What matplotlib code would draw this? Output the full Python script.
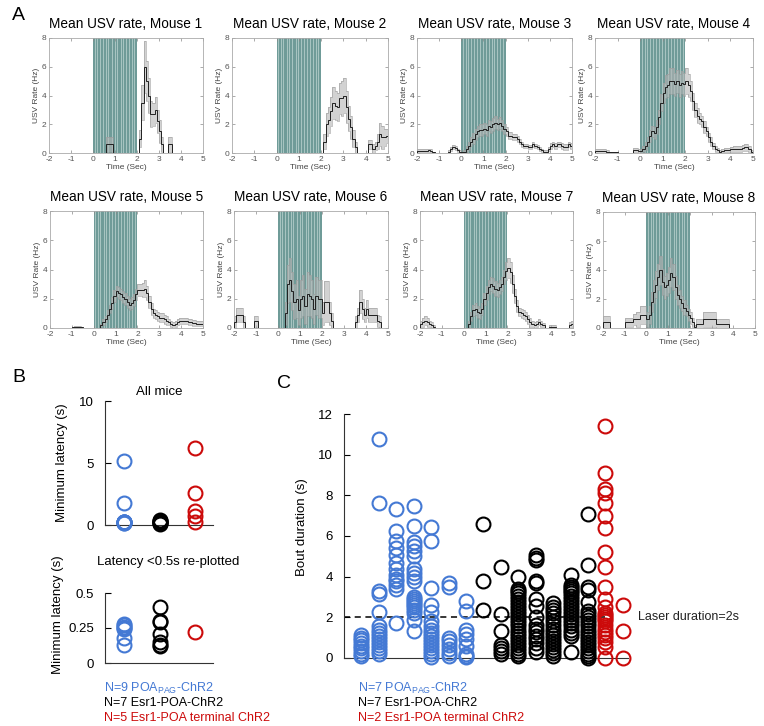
import numpy as np
import matplotlib
matplotlib.use('Agg')
import matplotlib.pyplot as plt

plt.rcParams['font.family'] = ['Liberation Sans', 'DejaVu Sans']
plt.rcParams['mathtext.default'] = 'regular'
plt.rcParams['axes.unicode_minus'] = False

W, H = 764, 726
BLUE = '#4479d4'
RED = '#cc0a0a'

# ---------- Panel A: mean USV rate per mouse, 0.1 s bins from -2 to 5 s ----------
t_edges = np.round(np.arange(-2.0, 5.0001, 0.1), 2)

mouse1_mean = [0,0,0,0,0,0,0,0,0,0,  0,0,0,0,0,0,0,0,0,0,
               0,0,0,0,0,0,0.6,0.6,0.6,0,  0,0,0,0,0,0,0,0,0,0,
               0,1.0,3.5,6.0,5.0,4.0,2.7,2.7,3.0,2.2,  1.5,0.6,0,0,0.6,0.6,0,0,0,0,
               0,0,0,0,0,0,0,0,0,0]
mouse1_sem = [0,0,0,0,0,0,0,0,0,0,  0,0,0,0,0,0,0,0,0,0,
              0,0,0,0,0,0,0.5,0.5,0.5,0,  0,0,0,0,0,0,0,0,0,0,
              0,0.6,1.2,1.8,1.4,1.2,0.9,0.8,0.9,0.8,  0.8,0.5,0,0,0.5,0.5,0,0,0,0,
              0,0,0,0,0,0,0,0,0,0]

mouse2_mean = [0,0,0,0,0,0,0,0,0,0,  0,0,0,0,0,0,0,0,0,0,
               0,0,0,0,0,0,0,0,0,0,  0,0,0,0,0,0,0,0,0,0,
               0,0.8,2.0,2.3,2.9,3.5,3.3,3.2,3.8,3.8,  4.0,3.2,2.4,1.8,1.0,0.4,0,0,0,0,
               0,0.6,0.6,0.3,0.5,0.8,1.3,1.1,1.1,1.2]
mouse2_sem = [0,0,0,0,0,0,0,0,0,0,  0,0,0,0,0,0,0,0,0,0,
              0,0,0,0,0,0,0,0,0,0,  0,0,0,0,0,0,0,0,0,0,
              0,0.5,0.8,0.9,1.0,1.1,1.0,1.0,1.1,1.2,  1.2,1.1,0.9,0.8,0.6,0.4,0,0,0,0,
              0,0.3,0.3,0.3,0.3,0.5,0.8,0.8,0.6,0.5]

mouse3_mean = [0.15,0.15,0.15,0.15,0.15,0.2,0.15,0.05,0,0,  0,0,0,0,0.1,0.3,0.4,0.35,0.2,0.1,
               0.05,0.1,0.3,0.5,0.8,1.0,1.3,1.5,1.6,1.6,  1.7,1.6,1.9,1.8,2.0,2.1,2.0,2.1,1.9,1.7,
               1.5,1.2,1.2,1.1,1.1,1.0,0.8,0.6,0.5,0.5,  0.4,0.4,0.6,0.5,0.4,0.3,0.2,0.1,0.1,0.3,
               0.5,0.6,0.5,0.6,0.6,0.5,0.4,0.4,0.6,0.5]
mouse3_sem = [0.1,0.1,0.1,0.1,0.1,0.1,0.1,0.05,0,0,  0,0,0,0,0.1,0.15,0.15,0.15,0.1,0.1,
              0.05,0.1,0.2,0.3,0.3,0.4,0.4,0.4,0.4,0.4,  0.4,0.4,0.4,0.4,0.45,0.45,0.4,0.4,0.4,0.35,
              0.3,0.25,0.25,0.2,0.2,0.2,0.2,0.2,0.15,0.15,  0.15,0.15,0.15,0.15,0.15,0.15,0.1,0.1,0.1,0.15,
              0.2,0.2,0.2,0.2,0.2,0.2,0.2,0.2,0.2,0.2]

mouse4_mean = [0.15,0.15,0.15,0.15,0.15,0.1,0.05,0.05,0.05,0.05,  0,0,0,0,0,0,0,0.2,0.2,0.15,
               0.15,0.3,0.5,0.8,1.2,1.5,1.4,1.8,2.5,3.5,  4.2,4.6,4.7,5.0,5.0,4.8,5.0,4.7,4.9,4.8,
               5.0,4.7,4.3,3.6,3.0,2.6,2.4,2.2,1.8,1.5,  1.1,0.8,0.5,0.3,0.2,0.1,0.15,0.2,0.2,0.2,
               0.25,0.3,0.3,0.3,0.3,0.35,0.4,0.4,0.3,0.1]
mouse4_sem = [0.15,0.15,0.15,0.15,0.15,0.1,0.05,0.05,0.05,0.05,  0,0,0,0,0,0,0,0.15,0.15,0.15,
              0.15,0.2,0.3,0.3,0.4,0.4,0.4,0.5,0.5,0.6,  0.7,0.8,0.8,0.9,0.9,0.8,0.8,0.8,0.8,0.8,
              0.9,0.8,0.7,0.6,0.5,0.5,0.4,0.4,0.4,0.3,  0.3,0.3,0.2,0.2,0.15,0.1,0.1,0.15,0.15,0.15,
              0.2,0.2,0.2,0.2,0.2,0.2,0.25,0.25,0.2,0.1]

mouse5_mean = [0,0,0,0,0,0,0,0,0,0,  0.05,0.1,0.1,0.1,0.05,0,0,0,0,0,
               0,0,0,0.2,0.4,0.6,0.9,1.3,1.7,2.2,  2.5,2.4,2.3,2.1,2.0,1.8,1.6,1.7,1.9,2.3,
               2.6,2.6,2.6,2.7,2.4,1.8,1.3,1.0,0.9,0.8,  0.7,0.7,0.6,0.5,0.4,0.3,0.2,0.3,0.4,0.5,
               0.5,0.45,0.45,0.4,0.4,0.35,0.35,0.3,0.3,0.3]
mouse5_sem = [0,0,0,0,0,0,0,0,0,0,  0.05,0.05,0.05,0.05,0.05,0,0,0,0,0,
              0,0,0,0.1,0.2,0.2,0.3,0.3,0.4,0.4,  0.4,0.4,0.4,0.4,0.4,0.4,0.4,0.4,0.4,0.4,
              0.4,0.4,0.5,0.6,0.5,0.4,0.4,0.3,0.3,0.3,  0.3,0.3,0.3,0.3,0.2,0.2,0.2,0.2,0.2,0.2,
              0.2,0.2,0.2,0.2,0.2,0.2,0.2,0.15,0.15,0.15]

mouse6_mean = [0.4,0.9,0.9,0.9,0.4,0,0,0,0,0.45,  0.45,0,0,0,0,0,0,0,0,0,
               0,0,0,1.0,3.0,3.3,2.5,1.8,2.0,1.2,  2.0,2.2,1.5,2.3,2.2,2.0,1.3,2.2,2.0,2.0,
               1.0,1.8,1.8,1.0,0.5,0,0,0,0,0,  0,0,0,0,0,0.4,0.9,1.8,1.3,0.9,
               1.3,0.9,0.9,0.9,0.9,0.5,0.4,0,0,0]
mouse6_sem = [0.4,0.5,0.5,0.5,0.4,0,0,0,0,0.4,  0.4,0,0,0,0,0,0,0,0,0,
              0,0,0,0.8,1.3,1.5,1.3,1.2,1.3,1.0,  1.3,1.4,1.2,1.5,1.4,1.3,1.0,1.3,1.3,1.3,
              0.8,1.4,1.4,0.8,0.5,0,0,0,0,0,  0,0,0,0,0,0.4,0.5,0.8,0.7,0.5,
              0.6,0.5,0.5,0.5,0.5,0.4,0.4,0,0,0]

mouse7_mean = [0.3,0.4,0.5,0.4,0.3,0.2,0.1,0,0,0,  0,0,0,0,0,0,0,0,0,0,
               0,0,0.3,0.8,1.2,1.3,1.1,1.0,1.3,2.0,  2.4,2.8,3.0,2.9,2.7,2.6,2.8,3.0,3.5,3.9,
               4.1,3.8,3.0,2.2,1.5,1.1,1.0,0.9,0.8,0.6,  0.4,0.3,0.2,0.3,0.4,0.3,0.2,0,0,0.1,
               0.1,0.1,0,0,0,0,0,0,0.2,0.3]
mouse7_sem = [0.2,0.3,0.3,0.3,0.2,0.2,0.1,0,0,0,  0,0,0,0,0,0,0,0,0,0,
              0,0,0.2,0.3,0.4,0.4,0.4,0.4,0.4,0.4,  0.5,0.5,0.5,0.5,0.5,0.5,0.5,0.5,0.5,0.6,
              0.7,0.7,0.6,0.5,0.4,0.3,0.3,0.3,0.3,0.3,  0.3,0.2,0.2,0.2,0.2,0.2,0.15,0,0,0.1,
              0.1,0.1,0,0,0,0,0,0,0.2,0.2]

mouse8_mean = [0.4,0.4,0.4,0,0,0,0,0,0,0,  0.4,0.4,0.4,0.4,0.6,0.6,0.6,0.9,0.9,0.9,
               0.6,0.9,1.8,2.5,3.0,3.5,4.0,3.2,2.8,3.0,  3.3,3.8,3.5,2.8,2.3,2.0,1.7,1.4,1.2,0.9,
               0.7,0.4,0.1,0.3,0.3,0.3,0.6,0.6,0.6,0.6,  0.6,0.6,0.3,0.3,0.3,0.3,0.3,0.3,0,0,
               0,0,0,0,0,0,0,0,0,0]
mouse8_sem = [0.4,0.4,0.4,0,0,0,0,0,0,0,  0.3,0.3,0.3,0.3,0.4,0.5,0.5,0.6,0.6,0.6,
              0.5,0.6,0.7,0.8,0.9,0.9,1.0,0.9,0.8,0.8,  0.9,1.0,0.9,0.8,0.7,0.6,0.5,0.5,0.4,0.4,
              0.4,0.3,0.1,0.3,0.3,0.3,0.5,0.5,0.5,0.5,  0.5,0.5,0.3,0.3,0.3,0.3,0.3,0.3,0,0,
              0,0,0,0,0,0,0,0,0,0]

mouse_means = [mouse1_mean, mouse2_mean, mouse3_mean, mouse4_mean,
               mouse5_mean, mouse6_mean, mouse7_mean, mouse8_mean]
mouse_sems = [mouse1_sem, mouse2_sem, mouse3_sem, mouse4_sem,
              mouse5_sem, mouse6_sem, mouse7_sem, mouse8_sem]

laser_on, laser_off = 0.0, 2.0
laser_stripes = [0.08, 0.2, 0.3, 0.45, 0.58, 0.7, 0.85, 0.98, 1.1, 1.25,
                 1.38, 1.5, 1.62, 1.75, 1.88]

# ---------- Panel B: minimum latency ----------
lat_blue = [5.2, 1.75, 0.28, 0.27, 0.26, 0.25, 0.24, 0.18, 0.13]
lat_black = [0.40, 0.30, 0.29, 0.21, 0.15, 0.13, 0.12]
lat_red = [6.2, 2.6, 1.1, 0.7, 0.22]

# ---------- Panel C: bout durations per mouse ----------
bout_blue = [
    [1.15, 1.0, 0.9, 0.75, 0.6, 0.5, 0.35, 0.2, 0.1],
    [10.75, 7.6, 3.3, 3.15, 2.25, 1.55, 1.4, 1.25, 1.1, 0.95, 0.8, 0.65, 0.5, 0.35, 0.2],
    [7.35, 6.25, 5.75, 5.4, 5.05, 4.65, 4.4, 4.1, 3.9, 3.8, 3.6, 3.4, 1.7],
    [7.5, 6.5, 5.7, 5.5, 5.25, 5.0, 4.4, 4.2, 4.0, 3.8, 3.0, 2.9, 2.8, 2.7, 2.6, 2.5,
     2.35, 2.2, 1.85, 1.35],
    [6.45, 5.75, 3.45, 2.6, 2.25, 1.8, 1.55, 1.4, 1.25, 1.1, 0.95, 0.8, 0.65, 0.5, 0.35,
     0.2, 0.05],
    [3.7, 3.5, 1.0, 0.85, 0.65, 0.45, 0.25, 0.1],
    [2.8, 2.3, 1.4, 1.2, 0.95, 0.6, 0.2, 0.1, 0.05],
]
bout_black = [
    [6.6, 3.8, 2.35],
    [4.5, 2.15, 1.35, 0.65, 0.5, 0.35, 0.2],
    [4.0, 3.4, 3.3, 3.2, 3.05, 2.9, 2.75, 2.6, 2.45, 2.3, 2.15, 2.0, 1.85, 1.7, 1.55, 1.4,
     1.25, 1.1, 0.95, 0.8, 0.65, 0.5, 0.35, 0.2, 0.1],
    [5.05, 4.9, 4.8, 3.8, 3.7, 2.9, 2.55, 2.0, 1.6, 1.45, 1.3, 1.1, 0.95, 0.75, 0.5, 0.3],
    [2.7, 2.5, 2.35, 2.2, 2.0, 1.8, 1.6, 1.45, 1.3, 1.15, 1.0, 0.85, 0.7, 0.55, 0.4, 0.25, 0.1],
    [4.1, 3.6, 3.5, 3.4, 3.3, 3.2, 3.05, 2.9, 2.75, 2.6, 2.45, 2.3, 2.15, 2.0, 1.85, 1.7,
     1.55, 1.4, 1.25, 1.1, 0.3],
    [7.1, 4.55, 3.5, 3.35, 2.75, 2.3, 2.15, 2.0, 1.85, 1.7, 1.55, 1.4, 1.25, 1.1, 0.95,
     0.8, 0.65, 0.5, 0.35, 0.2, 0.1, 0.0],
]
bout_red = [
    [11.4, 9.1, 8.3, 8.1, 7.6, 7.0, 6.4, 5.2, 4.5, 3.5, 2.9, 2.5, 2.2, 2.1, 2.0, 1.9, 1.8,
     1.6, 1.45, 1.3, 1.15, 1.0, 0.8, 0.55, 0.0],
    [2.6, 1.35, 0.0],
]
laser_duration = 2

fig = plt.figure(figsize=(W / 100, H / 100), dpi=100)


def px_axes(l, t, r, b):
    return fig.add_axes([l / W, 1 - b / H, (r - l) / W, (b - t) / H])


def fig_text(x, y, s, **kw):
    fig.text(x / W, 1 - y / H, s, **kw)


a_rects = [(49, 38, 203, 153), (232, 38, 388, 153), (417, 38, 572, 153), (595, 38, 753, 153),
           (50, 211, 203, 328), (234, 211, 388, 328), (420, 211, 573, 328), (603, 212, 755, 328)]

for i, (rect, m, s) in enumerate(zip(a_rects, mouse_means, mouse_sems)):
    ax = px_axes(*rect)
    m = np.array(m)
    s = np.array(s)
    lo = np.clip(m - s, 0, None)
    ax.axvspan(laser_on, laser_off, color='#6f9b98', lw=0, zorder=1)
    for xs in laser_stripes:
        ax.axvline(xs, color='#a9c6c3', lw=0.7, zorder=1.1)
    ax.stairs(m + s, t_edges, baseline=lo, fill=True,
              color='#b4b4b4', alpha=0.6, zorder=2)
    ax.stairs(m + s, t_edges, color='#999999', lw=0.4, zorder=2.5)
    ax.stairs(lo, t_edges, color='#999999', lw=0.4, zorder=2.5)
    ax.stairs(m, t_edges, color='#202020', lw=0.7, zorder=3)
    ax.set_xlim(-2, 5)
    ax.set_ylim(0, 8)
    ax.set_xticks(range(-2, 6))
    ax.set_yticks([0, 2, 4, 6, 8])
    ax.tick_params(direction='in', top=True, right=True, length=2, width=0.5,
                   labelsize=6, labelcolor='#555555', color='#888888', pad=2)
    for sp in ax.spines.values():
        sp.set_color('#aaaaaa')
        sp.set_linewidth(0.6)
    ax.set_xlabel('Time (Sec)', fontsize=6, color='#444444', labelpad=1)
    ax.set_ylabel('USV Rate (Hz)', fontsize=6, color='#444444', labelpad=1)
    ax.set_title(f'Mean USV rate, Mouse {i + 1}', fontsize=9.8, pad=7)


def scatter_col(ax, x, vals, color):
    ax.plot(np.full(len(vals), x), vals, 'o', mfc='none', mec=color, ms=10, mew=1.5,
            clip_on=False, zorder=3)


def style_simple(ax):
    for sp in ['top', 'right']:
        ax.spines[sp].set_visible(False)
    ax.spines['left'].set_color('#333333')
    ax.spines['bottom'].set_color('#333333')
    ax.tick_params(axis='y', direction='in', length=4, labelsize=9.5, pad=8)
    ax.set_xticks([])


# B top
axb1 = px_axes(105, 401, 213, 525)
for pos, vals, c in zip([1, 2, 3], [lat_blue, lat_black, lat_red], [BLUE, 'black', RED]):
    scatter_col(axb1, pos, vals, c)
axb1.set_xlim(0.47, 3.5)
axb1.set_ylim(0, 10)
axb1.set_yticks([0, 5, 10])
style_simple(axb1)
axb1.set_ylabel('Minimum latency (s)', fontsize=9.5, labelpad=8)
axb1.set_title('All mice', fontsize=9.5, pad=4)

# B bottom
axb2 = px_axes(105, 593, 213, 663)
for pos, vals, c in zip([1, 2, 3], [[v for v in lat_blue if v < 0.5],
                                    [v for v in lat_black if v < 0.5],
                                    [v for v in lat_red if v < 0.5]], [BLUE, 'black', RED]):
    scatter_col(axb2, pos, vals, c)
axb2.set_xlim(0.47, 3.5)
axb2.set_ylim(0, 0.5)
axb2.set_yticks([0, 0.25, 0.5])
axb2.set_yticklabels(['0', '0.25', '0.5'])
style_simple(axb2)
fig_text(58, 615, 'Minimum latency (s)', fontsize=9.5, rotation=90, ha='center', va='center')
fig_text(168, 562, 'Latency <0.5s re-plotted', fontsize=9.5, ha='center', va='center')

# C
axc = px_axes(344, 414, 628, 658)
axc.plot([0, 15], [laser_duration, laser_duration], ls='--', color='black', lw=1.1,
         dashes=(4, 3), zorder=1)
col = 1
for group, c in [(bout_blue, BLUE), (bout_black, 'black'), (bout_red, RED)]:
    for vals in group:
        scatter_col(axc, col, vals, c)
        col += 1
axc.set_xlim(0, 16.3)
axc.set_ylim(0, 12)
axc.set_yticks(range(0, 13, 2))
style_simple(axc)
axc.text(16.9, laser_duration, f'Laser duration={laser_duration}s', fontsize=9,
         va='center', ha='left', color='#222222', clip_on=False)
fig_text(302, 527, 'Bout duration (s)', fontsize=9.5, rotation=90, ha='center', va='center')

# legends
legend_lines_b = [(r'N=9 POA$_{PAG}$-ChR2', BLUE), ('N=7 Esr1-POA-ChR2', 'black'),
                  ('N=5 Esr1-POA terminal ChR2', RED)]
legend_lines_c = [(r'N=7 POA$_{PAG}$-ChR2', BLUE), ('N=7 Esr1-POA-ChR2', 'black'),
                  ('N=2 Esr1-POA terminal ChR2', RED)]
for k, ((sb, cb), (sc, cc)) in enumerate(zip(legend_lines_b, legend_lines_c)):
    fig_text(104, 688 + 15 * k, sb, color=cb, fontsize=9, va='center', ha='left')
    fig_text(358, 688 + 15 * k, sc, color=cc, fontsize=9, va='center', ha='left')

# panel letters
fig_text(12, 15, 'A', fontsize=14, va='center', ha='left')
fig_text(12, 377, 'B', fontsize=14, va='center', ha='left')
fig_text(277, 384, 'C', fontsize=14, va='center', ha='left')

fig.savefig('out.png', dpi=100)
